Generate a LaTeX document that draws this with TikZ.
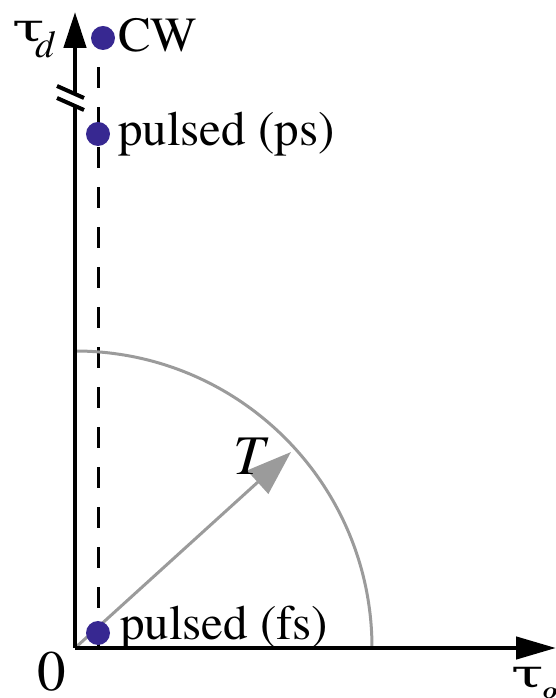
\documentclass[tikz,border=0pt]{standalone}
\usepackage{fontspec}
\setmainfont{TeX Gyre Termes}
\newfontfamily\grk{DejaVu Serif}
\usetikzlibrary{arrows.meta}
\definecolor{dotblue}{RGB}{55,40,145}
\definecolor{arcgray}{RGB}{155,155,155}
\tikzset{
  axisline/.style={line width=4.5pt,black},
  dashline/.style={line width=3pt,black,dash pattern=on 21pt off 19pt},
  dotmark/.style={circle,fill=dotblue,minimum size=24pt,inner sep=0pt},
  lbl/.style={inner sep=0pt,anchor=base west,font=\fontsize{49}{50}\selectfont},
  graycurve/.style={line width=3pt,arcgray},
  slash/.style={line width=4pt,black},
  taulbl/.style={inner sep=0pt,anchor=base west,font=\fontsize{39}{40}\selectfont}
}
\newcommand{\widetau}{\scalebox{1.5}[1]{\grk τ}}
\begin{document}
\begin{tikzpicture}[x=1pt,y=1pt]
\useasboundingbox (0,0) rectangle (555,698);
% coordinates
\coordinate (O) at (75,50);
\coordinate (ytip) at (75,686);
\coordinate (xtip) at (556,50);
\coordinate (ygapL) at (75,592);
\coordinate (ygapU) at (75,604);
\coordinate (dtop) at (98,660);
\coordinate (dbot) at (98,50);
\coordinate (Ttip) at (291,246);
% dashed line
\draw[dashline] (dbot) -- (dtop);
% arc and T arrow
\draw[graycurve] (372,50) arc[start angle=0,end angle=90,radius=297pt];
\draw[graycurve,-{Triangle[length=45pt,width=31pt]}] (O) -- (Ttip);
% axes
\draw[axisline] (O) -- (ygapL);
\draw[axisline,-{Triangle[length=36pt,width=22pt]}] (ygapU) -- (ytip);
\draw[axisline,-{Triangle[length=40pt,width=22pt]}] (O) -- (xtip);
% break slashes
\coordinate (s1a) at (57,612);
\coordinate (s1b) at (84,600);
\coordinate (s2a) at (57,600);
\coordinate (s2b) at (84,588);
\draw[slash] (s1a) -- (s1b);
\draw[slash] (s2a) -- (s2b);
% dots
\node[dotmark] (cw) at (103,660) {};
\node[dotmark] (ps) at (98,564) {};
\node[dotmark] (fs) at (98,65) {};
% labels
\node[lbl] (cwl) at (118,646) {CW};
\node[lbl] (psl) at (118,552) {pulsed (ps)};
\node[lbl] (fsl) at (120,58) {pulsed (fs)};
\node[inner sep=0pt,anchor=base,font=\fontsize{57}{58}\selectfont] (zero) at (52,7) {0};
\node[inner sep=0pt,anchor=base,font=\fontsize{56}{57}\selectfont\itshape] (Tl) at (249,223) {T};
\node[taulbl] (taud) at (12,656) {\widetau};
\node[inner sep=0pt,anchor=base west,font=\fontsize{38}{39}\selectfont\itshape] (dsub) at (35,640) {d};
\node[taulbl] (taug) at (511,10) {\widetau};
\node[inner sep=0pt,anchor=base west,font=\fontsize{38}{39}\selectfont\itshape] (gsub) at (540,-6) {g};
\end{tikzpicture}
\end{document}
